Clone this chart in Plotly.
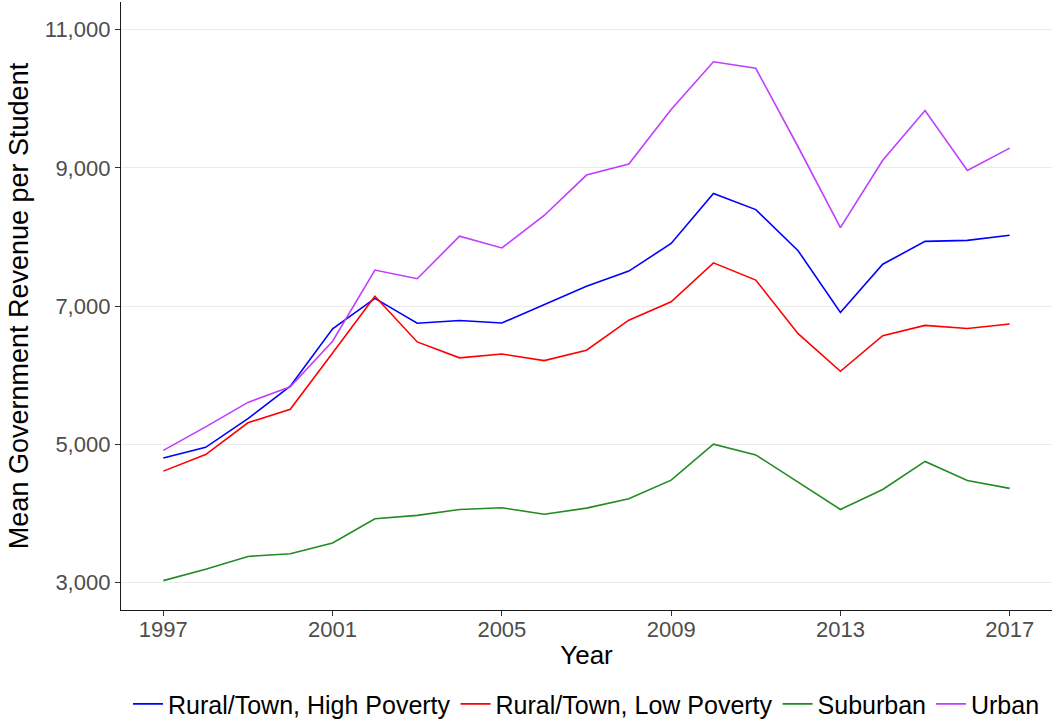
import plotly.graph_objects as go

# mean government revenue per student, by district type
years = list(range(1997, 2018))

rural_high_poverty = [4800, 4955, 5370, 5840, 6670, 7110, 6750, 6790, 6755, 7020, 7285,
                      7505, 7905, 8630, 8395, 7800, 6905, 7605, 7935, 7950, 8025]
rural_low_poverty = [4610, 4850, 5310, 5505, 6320, 7140, 6480, 6250, 6305, 6210, 6360,
                     6795, 7060, 7625, 7375, 6600, 6055, 6570, 6720, 6675, 6740]
suburban = [3025, 3190, 3375, 3415, 3570, 3920, 3970, 4055, 4080, 3985, 4075,
            4210, 4480, 5000, 4845, 4455, 4055, 4345, 4750, 4475, 4360]
urban = [4910, 5250, 5605, 5830, 6490, 7520, 7395, 8010, 7840, 8310, 8895,
         9055, 9845, 10535, 10440, 9305, 8135, 9110, 9830, 8960, 9285]

series = [
    ("Rural/Town, High Poverty", rural_high_poverty, "#0000FF"),
    ("Rural/Town, Low Poverty", rural_low_poverty, "#FF0000"),
    ("Suburban", suburban, "#228B22"),
    ("Urban", urban, "#BF3EFF"),
]

x_ticks = [1997, 2001, 2005, 2009, 2013, 2017]
y_ticks = [3000, 5000, 7000, 9000, 11000]

fig = go.Figure()

for name, vals, col in series:
    fig.add_trace(go.Scatter(x=years, y=vals, mode="lines", name=name,
                             line=dict(color=col, width=1.6)))

fig.update_layout(
    width=1055, height=721,
    paper_bgcolor="white", plot_bgcolor="white",
    margin=dict(l=121, r=3, t=2, b=111, autoexpand=False),
    font=dict(family="Liberation Sans", color="black"),
    showlegend=True,
    legend=dict(orientation="h", x=0.5, xanchor="center",
                y=-0.117, yanchor="top", font=dict(size=25, color="black"),
                itemwidth=30, tracegroupgap=0),
)

fig.update_xaxes(
    range=[1996, 2018], tickvals=x_ticks, ticktext=[str(t) for t in x_ticks],
    tickangle=0, showgrid=False, zeroline=False,
    showline=True, linecolor="#1a1a1a", linewidth=1.3,
    ticks="outside", ticklen=5, tickcolor="#333333", tickwidth=1.2,
    tickfont=dict(size=22, color="#4D4D4D"), ticklabelstandoff=-6,
    title=dict(text="Year", font=dict(size=26, color="black"), standoff=5),
)
fig.update_yaxes(
    range=[2600, 11400], tickvals=y_ticks, ticktext=[f"{t:,}" for t in y_ticks],
    showgrid=True, gridcolor="#EBEBEB", gridwidth=1.3, zeroline=False,
    showline=True, linecolor="#1a1a1a", linewidth=1.3,
    ticks="outside", ticklen=5, tickcolor="#333333", tickwidth=1.2,
    tickfont=dict(size=22, color="#4D4D4D"),
    title=dict(text="Mean Government Revenue per Student",
               font=dict(size=27, color="black"), standoff=8),
)

# drop the default page margin so the figure sits at the window corner
fig.write_html("out.html", config={"displayModeBar": False},
               post_script="document.body.style.margin='0px';")
